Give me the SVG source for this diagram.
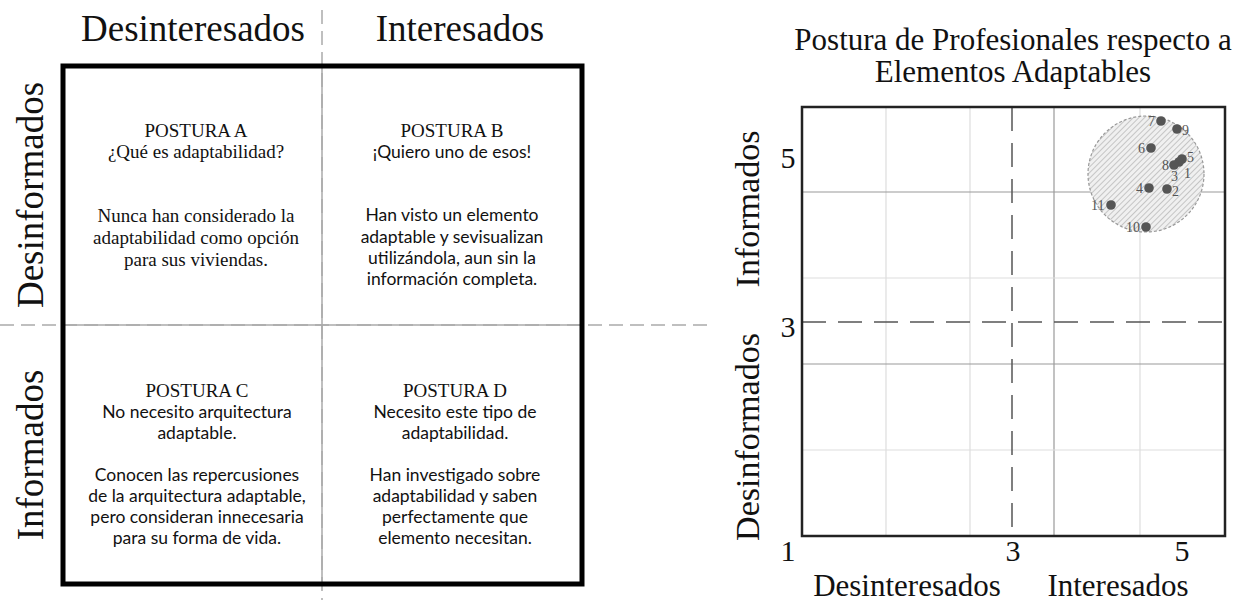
<svg xmlns="http://www.w3.org/2000/svg" width="1251" height="602" viewBox="0 0 1251 602">
<style>
.ser{font-family:"Liberation Serif","Times New Roman",serif;fill:#111}
.san{font-family:Lato,"Open Sans",sans-serif;fill:#111}
.big{font-size:37px}
.ttl{font-size:19px}
.body{font-size:17.5px}
.mid{text-anchor:middle}
.lbl{font-family:"Liberation Serif",serif;font-size:14px;fill:#555}
.dot{fill:#555}
.gl{stroke:#ddd;stroke-width:1.2}
.gm{stroke:#999;stroke-width:1.2}
.dash{stroke:#555;stroke-width:1.5;stroke-dasharray:24 12;fill:none}
</style>
<defs>
<pattern id="hatch" patternUnits="userSpaceOnUse" width="4" height="4" patternTransform="rotate(45)">
<rect width="4" height="4" fill="#f0f0f0"/>
<line x1="0" y1="0" x2="0" y2="4" stroke="#9a9a9a" stroke-width="1"/>
</pattern>
</defs>
<rect width="1251" height="602" fill="#fff"/>

<!-- Left matrix -->
<g id="matrix-axes">
<line x1="322" y1="10" x2="322" y2="600" stroke="#aaa" stroke-width="1.5" stroke-dasharray="14 7"/>
<line x1="0" y1="325" x2="712" y2="325" stroke="#aaa" stroke-width="1.5" stroke-dasharray="14 7"/>
<line x1="322" y1="66" x2="322" y2="584" stroke="#aaa" stroke-width="1.5"/>
<line x1="63" y1="325" x2="582" y2="325" stroke="#aaa" stroke-width="1.5"/>
<rect x="63" y="66" width="519" height="518" fill="none" stroke="#000" stroke-width="5"/>
</g>
<g id="matrix-labels">
<text class="ser big mid" x="193" y="41">Desinteresados</text>
<text class="ser big mid" x="460" y="41">Interesados</text>
<text class="ser big mid" transform="translate(43,195) rotate(-90)">Desinformados</text>
<text class="ser big mid" transform="translate(43,455) rotate(-90)">Informados</text>
</g>
<g id="postura-a">
<text class="ser ttl mid" x="196" y="137">POSTURA A</text>
<text class="ser ttl mid" x="196" y="158">¿Qué es adaptabilidad?</text>
<text class="ser ttl mid" x="196" y="222">Nunca han considerado la</text>
<text class="ser ttl mid" x="196" y="244">adaptabilidad como opción</text>
<text class="ser ttl mid" x="196" y="266">para sus viviendas.</text>
</g>
<g id="postura-b">
<text class="ser ttl mid" x="452" y="137">POSTURA B</text>
<text class="san body mid" x="452" y="158">¡Quiero uno de esos!</text>
<text class="san body mid" x="452" y="221">Han visto un elemento</text>
<text class="san body mid" x="452" y="243">adaptable y sevisualizan</text>
<text class="san body mid" x="452" y="264">utilizándola, aun sin la</text>
<text class="san body mid" x="452" y="285">información completa.</text>
</g>
<g id="postura-c">
<text class="ser ttl mid" x="197" y="397">POSTURA C</text>
<text class="san body mid" x="197" y="418">No necesito arquitectura</text>
<text class="san body mid" x="197" y="439">adaptable.</text>
<text class="san body mid" x="197" y="481">Conocen las repercusiones</text>
<text class="san body mid" x="197" y="502">de la arquitectura adaptable,</text>
<text class="san body mid" x="197" y="523">pero consideran innecesaria</text>
<text class="san body mid" x="197" y="544">para su forma de vida.</text>
</g>
<g id="postura-d">
<text class="ser ttl mid" x="455" y="397">POSTURA D</text>
<text class="san body mid" x="455" y="418">Necesito este tipo de</text>
<text class="san body mid" x="455" y="439">adaptabilidad.</text>
<text class="san body mid" x="455" y="481">Han investigado sobre</text>
<text class="san body mid" x="455" y="502">adaptabilidad y saben</text>
<text class="san body mid" x="455" y="523">perfectamente que</text>
<text class="san body mid" x="455" y="544">elemento necesitan.</text>
</g>

<!-- Right chart -->
<g id="chart-title">
<text class="ser mid" x="1013" y="50" font-size="31">Postura de Profesionales respecto a</text>
<text class="ser mid" x="1013" y="82" font-size="31">Elementos Adaptables</text>
</g>
<g id="chart-grid">
<line class="gl" x1="886" y1="107" x2="886" y2="536"/>
<line class="gl" x1="970" y1="107" x2="970" y2="536"/>
<line class="gm" x1="1054" y1="107" x2="1054" y2="536"/>
<line class="gl" x1="1140" y1="107" x2="1140" y2="536"/>
<line class="gm" x1="802" y1="192" x2="1225" y2="192"/>
<line class="gl" x1="802" y1="278" x2="1225" y2="278"/>
<line class="gm" x1="802" y1="364" x2="1225" y2="364"/>
<line class="gl" x1="802" y1="450" x2="1225" y2="450"/>
<line class="dash" x1="1012" y1="107" x2="1012" y2="536"/>
<line class="dash" x1="802" y1="322" x2="1225" y2="322"/>
</g>
<g id="cluster">
<circle cx="1146" cy="174" r="58" fill="url(#hatch)" stroke="#999" stroke-width="1.2" stroke-dasharray="3 2"/>
</g>
<g id="chart-frame">
<rect x="802" y="107" width="423" height="429" fill="none" stroke="#222" stroke-width="2.5"/>
</g>
<g id="points">
<circle class="dot" cx="1161" cy="121" r="4.8"/><text class="lbl" x="1148" y="126">7</text>
<circle class="dot" cx="1177" cy="129" r="4.8"/><text class="lbl" x="1182" y="135">9</text>
<circle class="dot" cx="1151" cy="148" r="4.8"/><text class="lbl" x="1138" y="153">6</text>
<circle class="dot" cx="1182" cy="159" r="4.8"/><text class="lbl" x="1187" y="162">5</text>
<circle class="dot" cx="1179" cy="162" r="4.8"/><text class="lbl" x="1184" y="178">1</text>
<circle class="dot" cx="1174" cy="165" r="4.8"/><text class="lbl" x="1162" y="170">8</text>
<text class="lbl" x="1171" y="181">3</text>
<circle class="dot" cx="1149" cy="188" r="4.8"/><text class="lbl" x="1136" y="193">4</text>
<circle class="dot" cx="1167" cy="189" r="4.8"/><text class="lbl" x="1172" y="196">2</text>
<circle class="dot" cx="1111" cy="205" r="4.8"/><text class="lbl" x="1091" y="210">11</text>
<circle class="dot" cx="1146" cy="227" r="4.8"/><text class="lbl" x="1126" y="232">10</text>
</g>
<g id="chart-labels">
<text class="ser mid" x="788" y="561" font-size="30">1</text>
<text class="ser mid" x="1013" y="561" font-size="30">3</text>
<text class="ser mid" x="1182" y="561" font-size="30">5</text>
<text class="ser mid" x="788" y="168" font-size="30">5</text>
<text class="ser mid" x="788" y="337" font-size="30">3</text>
<text class="ser mid" x="907" y="596" font-size="31">Desinteresados</text>
<text class="ser mid" x="1118" y="596" font-size="31">Interesados</text>
<text class="ser mid" font-size="34" transform="translate(759,209) rotate(-90)">Informados</text>
<text class="ser mid" font-size="34" transform="translate(759,437) rotate(-90)">Desinformados</text>
</g>
</svg>
